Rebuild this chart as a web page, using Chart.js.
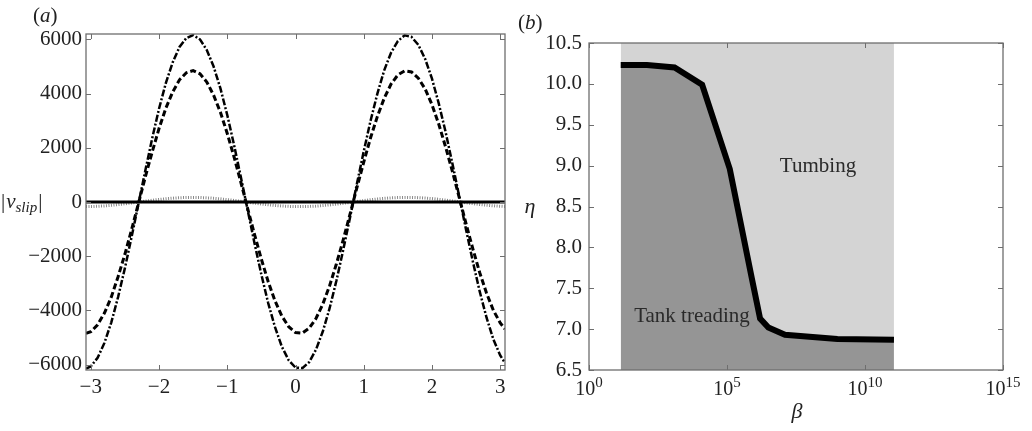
<!DOCTYPE html>
<html><head><meta charset="utf-8">
<script src="https://cdn.jsdelivr.net/npm/chart.js@4.4.0/dist/chart.umd.min.js"></script>
<style>
html,body{margin:0;padding:0;background:#fff;width:1032px;height:431px;overflow:hidden}
canvas{position:absolute;top:0}
#ca{left:0}
#cb{left:516px}
</style></head><body>
<canvas id="ca" width="516" height="431"></canvas>
<canvas id="cb" width="516" height="431"></canvas>
<script>
// ---------- Panel (a) data ----------
const xA = [-3.07,-3.0,-2.9,-2.8,-2.7,-2.6,-2.5,-2.4,-2.3,-2.2,-2.1,-2.0,-1.9,-1.8,-1.7,-1.6,-1.5,-1.4,-1.3,-1.2,-1.1,-1.0,-0.9,-0.8,-0.7,-0.6,-0.5,-0.4,-0.3,-0.2,-0.1,0.0,0.1,0.2,0.3,0.4,0.5,0.6,0.7,0.8,0.9,1.0,1.1,1.2,1.3,1.4,1.5,1.6,1.7,1.8,1.9,2.0,2.1,2.2,2.3,2.4,2.5,2.6,2.7,2.8,2.9,3.0,3.07];
const dashDotA = [-6150,-6070,-5750,-5200,-4450,-3510,-2440,-1270,-50,1170,2350,3440,4390,5150,5720,6050,6160,6000,5610,5000,4190,3210,2100,910,-310,-1530,-2680,-3730,-4620,-5340,-5840,-6110,-6130,-5910,-5450,-4780,-3920,-2900,-1760,-560,670,1870,3000,4000,4860,5510,5940,6150,6090,5800,5280,4550,3630,2580,1410,200,-1030,-2210,-3310,-4270,-5070,-5660,-5940];
const dashedA = [-4850,-4790,-4530,-4100,-3510,-2760,-1930,-1000,-40,930,1850,2710,3460,4060,4510,4770,4850,4730,4430,3940,3310,2530,1660,720,-250,-1200,-2110,-2940,-3650,-4210,-4600,-4820,-4840,-4660,-4300,-3770,-3090,-2280,-1390,-440,530,1470,2370,3160,3830,4350,4690,4840,4800,4570,4170,3590,2870,2030,1120,160,-810,-1740,-2610,-3370,-4000,-4460,-4690];
const dottedA = [-170,-168,-159,-144,-123,-97,-67,-35,-1,32,65,95,121,142,158,167,170,166,155,138,116,89,58,25,-9,-42,-74,-103,-128,-148,-161,-169,-169,-163,-151,-132,-108,-80,-49,-15,19,52,83,111,134,152,164,170,168,160,146,126,100,71,39,5,-28,-61,-91,-118,-140,-156,-164];
const solidX = [-3.07, 3.07];
const solidY = [0, 0];
const xTicksA = [-3,-2,-1,0,1,2,3];
const yTicksA = [-6000,-4000,-2000,0,2000,4000,6000];

// ---------- Panel (b) data ----------
const betaB = [14.1, 126, 1259, 12589, 1.26e5, 7.94e5, 1.58e6, 3.16e6, 1.26e7, 1e9, 1.12e11];
const etaB  = [10.23, 10.23, 10.20, 9.99, 8.96, 7.62, 7.13, 7.02, 6.93, 6.88, 6.87];
const etaTop = [10.5, 10.5, 10.5, 10.5, 10.5, 10.5, 10.5, 10.5, 10.5, 10.5, 10.5];
const xTicksB = [1, 1e5, 1e10, 1e15];
const xExpB = ['0', '5', '10', '15'];
const yTicksB = [6.5, 7.0, 7.5, 8.0, 8.5, 9.0, 9.5, 10.0, 10.5];

const SERIF = '"Liberation Serif", "DejaVu Serif", serif';
const pts = (xs, ys) => xs.map((x, i) => ({x: x, y: ys[i]}));

function boxPlugin() {
  return {
    id: 'box',
    afterDatasetsDraw(chart) {
      const {ctx, chartArea: a, scales} = chart;
      ctx.save();
      ctx.strokeStyle = '#6e6e6e';
      ctx.lineWidth = 1.3;
      ctx.strokeRect(a.left, a.top, a.right - a.left, a.bottom - a.top);
      const L = 5;
      ctx.beginPath();
      scales.x.ticks.forEach(t => {
        const p = Math.round(scales.x.getPixelForValue(t.value)) + 0.5;
        ctx.moveTo(p, a.bottom); ctx.lineTo(p, a.bottom - L);
        ctx.moveTo(p, a.top); ctx.lineTo(p, a.top + L);
      });
      scales.y.ticks.forEach(t => {
        const p = Math.round(scales.y.getPixelForValue(t.value)) + 0.5;
        ctx.moveTo(a.left, p); ctx.lineTo(a.left + L, p);
        ctx.moveTo(a.right, p); ctx.lineTo(a.right - L, p);
      });
      ctx.lineWidth = 1;
      ctx.stroke();
      ctx.restore();
    }
  };
}

function build() {
Chart.defaults.font.family = SERIF;
// ---------- Chart (a) ----------
new Chart(document.getElementById('ca'), {
  type: 'line',
  data: {
    datasets: [
      {data: pts(solidX, solidY), borderColor: '#000', borderWidth: 3, pointRadius: 0},
      {data: pts(xA, dashDotA), borderColor: '#000', borderWidth: 2.5, borderDash: [7, 2, 2, 2], pointRadius: 0},
      {data: pts(xA, dashedA), borderColor: '#000', borderWidth: 3, borderDash: [6, 3], pointRadius: 0},
      {data: pts(xA, dottedA), borderColor: '#8a8a8a', borderWidth: 3, borderDash: [1, 1.5], pointRadius: 0}
    ]
  },
  options: {
    responsive: false, devicePixelRatio: 1, animation: false,
    layout: {padding: {top: 34, right: 11, left: 0, bottom: 0}},
    plugins: {legend: {display: false}, tooltip: {enabled: false}},
    scales: {
      x: {
        type: 'linear', min: -3.07, max: 3.07,
        grid: {display: false, drawTicks: false, tickLength: 0}, border: {display: false},
        afterBuildTicks: s => { s.ticks = xTicksA.map(v => ({value: v})); },
        afterFit: s => { s.height = 61; },
        ticks: {padding: 5, color: '#222', font: {family: SERIF, size: 21}, maxRotation: 0,
          callback: v => String(v).replace('-', '\u2212')}
      },
      y: {
        type: 'linear', min: -6200, max: 6200,
        grid: {display: false, drawTicks: false, tickLength: 0}, border: {display: false},
        afterBuildTicks: s => { s.ticks = yTicksA.map(v => ({value: v})); },
        afterFit: s => { s.width = 86; },
        ticks: {padding: 4, color: '#222', font: {family: SERIF, size: 21},
          callback: v => String(v).replace('-', '\u2212')}
      }
    }
  },
  plugins: [boxPlugin(), {
    id: 'textA',
    afterDraw(chart) {
      const ctx = chart.ctx;
      ctx.save();
      ctx.fillStyle = '#222';
      ctx.textBaseline = 'alphabetic';
      ctx.textAlign = 'left';
      ctx.font = '21px ' + SERIF;
      let x = 33;
      ctx.fillText('(', x, 22); x += ctx.measureText('(').width;
      ctx.font = 'italic 21px ' + SERIF;
      ctx.fillText('a', x, 22); x += ctx.measureText('a').width;
      ctx.font = '21px ' + SERIF;
      ctx.fillText(')', x, 22);
      x = 1;
      ctx.font = '21px ' + SERIF;
      ctx.fillText('|', x, 208); x += ctx.measureText('|').width + 1;
      ctx.font = 'italic 21px ' + SERIF;
      ctx.fillText('v', x, 208); x += ctx.measureText('v').width;
      ctx.font = 'italic 15px ' + SERIF;
      ctx.fillText('slip', x, 212); x += ctx.measureText('slip').width + 1;
      ctx.font = '21px ' + SERIF;
      ctx.fillText('|', x, 208);
      ctx.restore();
    }
  }]
});

// ---------- Chart (b) ----------
new Chart(document.getElementById('cb'), {
  type: 'line',
  data: {
    datasets: [
      {data: pts(betaB, etaB), borderColor: '#000', borderWidth: 6, pointRadius: 0, fill: false,
       borderJoinStyle: 'miter', borderCapStyle: 'butt', tension: 0},
      {data: pts(betaB, etaTop), borderWidth: 0, borderColor: 'rgba(0,0,0,0)', pointRadius: 0,
       fill: '+1', backgroundColor: '#d4d4d4', tension: 0},
      {data: pts(betaB, etaB), borderWidth: 0, borderColor: 'rgba(0,0,0,0)', pointRadius: 0,
       fill: 'start', backgroundColor: '#959595', tension: 0}
    ]
  },
  options: {
    responsive: false, devicePixelRatio: 1, animation: false,
    layout: {padding: {top: 43, right: 29, left: 0, bottom: 0}},
    plugins: {legend: {display: false}, tooltip: {enabled: false}},
    scales: {
      x: {
        type: 'logarithmic', min: 1, max: 1e15,
        grid: {display: false, drawTicks: false, tickLength: 0}, border: {display: false},
        afterBuildTicks: s => { s.ticks = xTicksB.map(v => ({value: v})); },
        afterFit: s => { s.height = 61; },
        ticks: {display: true, padding: 4, maxRotation: 0, autoSkip: false, callback: () => ''}
      },
      y: {
        type: 'linear', min: 6.5, max: 10.5,
        grid: {display: false, drawTicks: false, tickLength: 0}, border: {display: false},
        afterBuildTicks: s => { s.ticks = yTicksB.map(v => ({value: v})); },
        afterFit: s => { s.width = 73; },
        ticks: {padding: 7, color: '#222', font: {family: SERIF, size: 21},
          callback: v => Number(v).toFixed(1)}
      }
    }
  },
  plugins: [boxPlugin(), {
    id: 'textB',
    afterDraw(chart) {
      const ctx = chart.ctx, sx = chart.scales.x, a = chart.chartArea;
      ctx.save();
      ctx.fillStyle = '#222';
      ctx.textBaseline = 'alphabetic';
      ctx.textAlign = 'left';
      xTicksB.forEach((v, i) => {
        const px = sx.getPixelForValue(v);
        ctx.font = '20px ' + SERIF;
        const wb = ctx.measureText('10').width;
        ctx.font = '15px ' + SERIF;
        const we = ctx.measureText(xExpB[i]).width;
        const x0 = px - (wb + we) / 2;
        ctx.font = '20px ' + SERIF;
        ctx.fillText('10', x0, a.bottom + 25);
        ctx.font = '15px ' + SERIF;
        ctx.fillText(xExpB[i], x0 + wb, a.bottom + 17);
      });
      let x = 2;
      ctx.font = '21px ' + SERIF;
      ctx.fillText('(', x, 29); x += ctx.measureText('(').width;
      ctx.font = 'italic 21px ' + SERIF;
      ctx.fillText('b', x, 29); x += ctx.measureText('b').width;
      ctx.font = '21px ' + SERIF;
      ctx.fillText(')', x, 29);
      ctx.textAlign = 'center';
      ctx.font = 'italic 22px ' + SERIF;
      ctx.fillText('\u03B7', 14, 213);
      ctx.fillText('\u03B2', 281, 418);
      ctx.fillStyle = '#2a2a2a';
      ctx.font = '21px ' + SERIF;
      ctx.fillText('Tumbing', 302, 172);
      ctx.fillText('Tank treading', 176, 322);
      ctx.restore();
    }
  }]
});
}

const loads = ['21px "Liberation Serif"', 'italic 21px "Liberation Serif"'].map(f => document.fonts.load(f).catch(() => null));
Promise.all(loads).then(() => document.fonts.ready).then(build, build);
</script></body></html>
